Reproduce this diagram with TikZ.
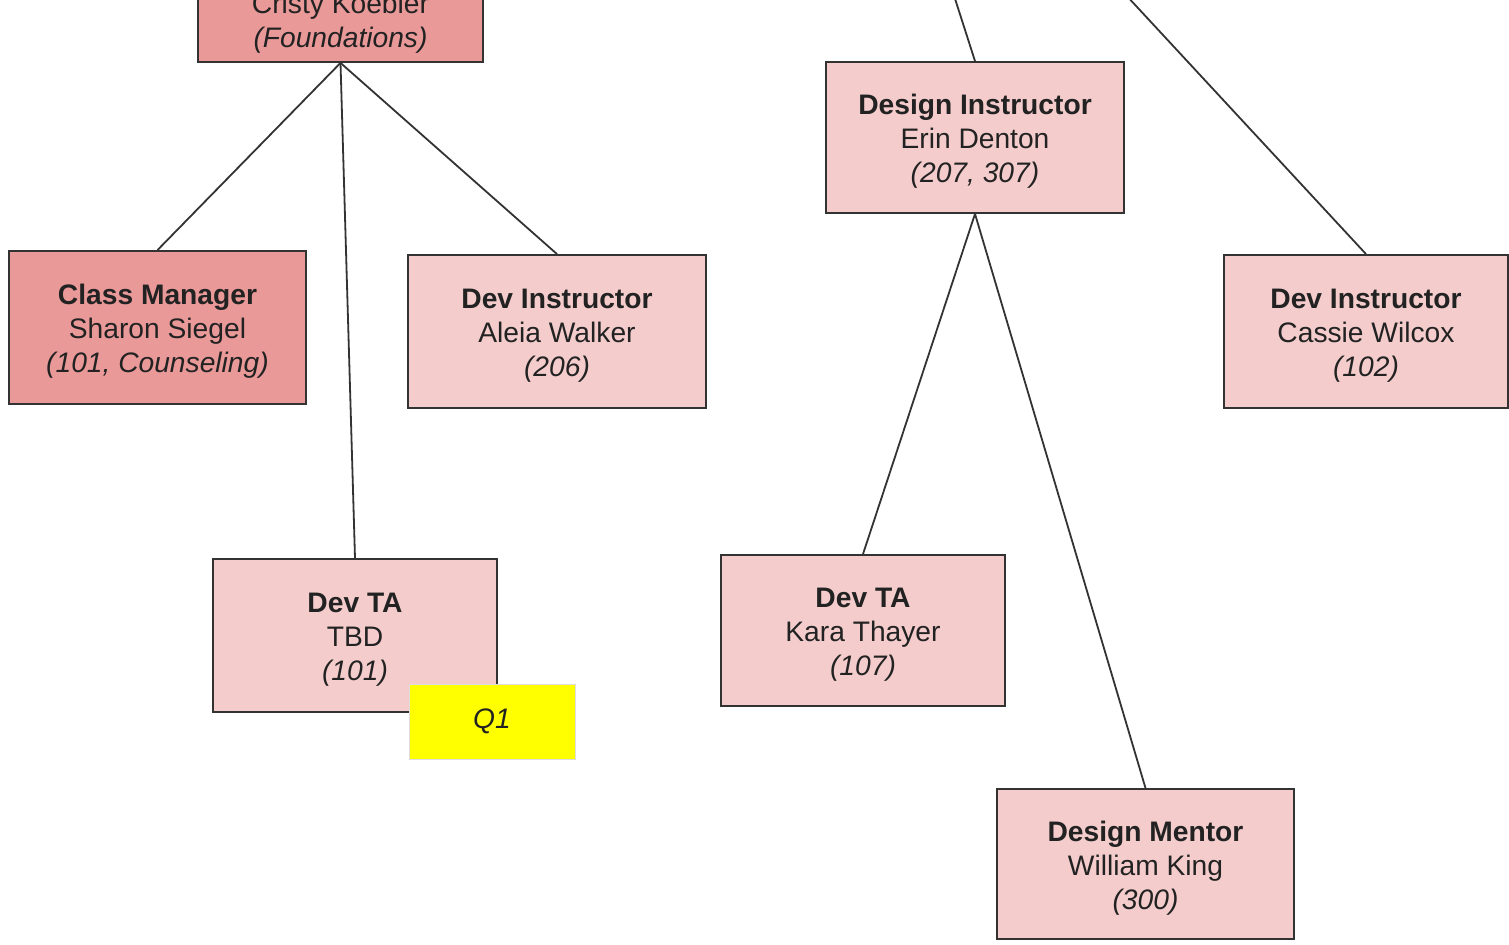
\documentclass[tikz,border=0pt]{standalone}
\usepackage{fontspec}
\setmainfont{Liberation Sans}
\definecolor{darkpink}{HTML}{EA9999}
\definecolor{lightpink}{HTML}{F4CCCC}
\definecolor{boxline}{HTML}{333333}
\definecolor{txt}{HTML}{222222}
\definecolor{qline}{HTML}{DDDDDD}
\definecolor{qfill}{RGB}{255,255,0}
\tikzset{
  lbl/.style={align=center, text=txt, font=\fontsize{14.1}{17}\selectfont, inner sep=0pt, yshift=-2pt},
  orgbox/.style={rectangle, draw=boxline, line width=0.9pt, fill=lightpink, inner sep=0pt},
  mgrbox/.style={orgbox, fill=darkpink},
  conn/.style={draw=boxline, line width=0.9pt},
  qbox/.style={rectangle, draw=qline, line width=0.4pt, fill=qfill, text=txt,
    font=\fontsize{14.1}{17}\selectfont\itshape, minimum width=83pt, minimum height=37.5pt}
}
\begin{document}
\begin{tikzpicture}[x=0.5pt,y=-0.5pt]
\clip (0,0) rectangle (1509,945);
\fill[white] (0,0) rectangle (1509,945);
% top (partially visible) box
\node[mgrbox, minimum width=142.5pt, minimum height=75.5pt] (cristy) at (340.5,-13.5) {};
\node[lbl, yshift=1pt] (cristytext) at (340.5,21) {Cristy Koebler\\\textit{(Foundations)}};
\coordinate (upA) at (949,-20);
\coordinate (upB) at (1112,-20);
% boxes
\node[mgrbox, minimum width=148.5pt, minimum height=76.5pt,
  label={[lbl]center:{\textbf{Class Manager}\\Sharon Siegel\\\textit{(101, Counseling)}}}] (sharon) at (157.5,327.5) {};
\node[orgbox, minimum width=149pt, minimum height=76.5pt,
  label={[lbl]center:{\textbf{Dev Instructor}\\Aleia Walker\\\textit{(206)}}}] (aleia) at (557,331.5) {};
\node[orgbox, minimum width=142pt, minimum height=76.5pt,
  label={[lbl]center:{\textbf{Dev TA}\\TBD\\\textit{(101)}}}] (tbd) at (355,635.5) {};
\node[orgbox, minimum width=149pt, minimum height=75.5pt,
  label={[lbl]center:{\textbf{Design Instructor}\\Erin Denton\\\textit{(207, 307)}}}] (erin) at (975,137.5) {};
\node[orgbox, minimum width=142pt, minimum height=76.5pt,
  label={[lbl]center:{\textbf{Dev Instructor}\\Cassie Wilcox\\\textit{(102)}}}] (cassie) at (1366,331.5) {};
\node[orgbox, minimum width=142pt, minimum height=75.5pt,
  label={[lbl]center:{\textbf{Dev TA}\\Kara Thayer\\\textit{(107)}}}] (kara) at (863,630.5) {};
\node[orgbox, minimum width=148.5pt, minimum height=75pt,
  label={[lbl]center:{\textbf{Design Mentor}\\William King\\\textit{(300)}}}] (william) at (1145.5,864) {};
% connectors
\draw[conn] (cristy.south) -- (sharon.north);
\draw[conn] (cristy.south) -- (aleia.north);
\draw[conn] (cristy.south) -- (tbd.north);
\draw[conn] (erin.south) -- (kara.north);
\draw[conn] (erin.south) -- (william.north);
\draw[conn] (erin.north) -- (upA);
\draw[conn] (cassie.north) -- (upB);
% note on top
\node[qbox] (q1) at (492,721.5) {Q1};
\end{tikzpicture}
\end{document}
